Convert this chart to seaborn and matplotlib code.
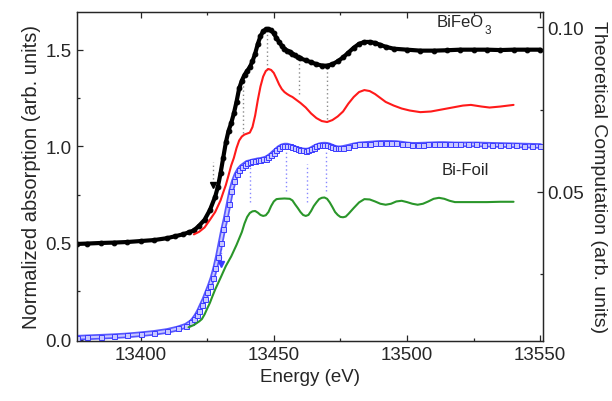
import numpy as np
import pandas as pd
import matplotlib
matplotlib.use("Agg")
import matplotlib.pyplot as plt
from matplotlib.ticker import MultipleLocator, FormatStrFormatter
import seaborn as sns

# ---------------- data ----------------
# BiFeO3 experiment (left axis)
bfo_E = [13376, 13380, 13385, 13390, 13395, 13400, 13405, 13410, 13413, 13416, 13418, 13420,
         13422, 13424, 13426, 13428, 13429, 13430, 13431, 13432, 13433, 13434, 13435, 13436,
         13437, 13438, 13439, 13440, 13441, 13442, 13443, 13444, 13445, 13446, 13447, 13448,
         13449, 13450, 13451, 13452, 13453, 13454, 13455, 13456, 13457, 13458, 13459, 13460,
         13462, 13464, 13466, 13468, 13470, 13472, 13474, 13476, 13478, 13480, 13482, 13484,
         13486, 13488, 13490, 13492, 13495, 13500, 13505, 13510, 13515, 13520, 13525, 13530,
         13535, 13540, 13545, 13550]
bfo_mu = [0.495, 0.497, 0.500, 0.502, 0.505, 0.510, 0.515, 0.525, 0.535, 0.545, 0.555, 0.565,
          0.590, 0.620, 0.670, 0.740, 0.790, 0.860, 0.940, 1.020, 1.080, 1.120, 1.170, 1.230,
          1.300, 1.340, 1.370, 1.390, 1.410, 1.440, 1.480, 1.530, 1.570, 1.595, 1.605, 1.607,
          1.600, 1.585, 1.560, 1.540, 1.520, 1.505, 1.495, 1.490, 1.480, 1.470, 1.460, 1.455,
          1.445, 1.435, 1.425, 1.418, 1.417, 1.425, 1.440, 1.460, 1.485, 1.510, 1.530, 1.540,
          1.540, 1.535, 1.525, 1.515, 1.505, 1.500, 1.495, 1.495, 1.497, 1.500, 1.500, 1.500,
          1.498, 1.500, 1.500, 1.500]

# BiFeO3 theory (right axis)
bfo_th_E = [13420, 13422, 13424, 13426, 13428, 13430, 13431, 13432, 13433, 13434, 13435, 13436,
            13437, 13438, 13439, 13440, 13441, 13442, 13443, 13444, 13445, 13446, 13447, 13448,
            13449, 13450, 13451, 13452, 13453, 13454, 13455, 13456, 13457, 13458, 13459, 13460,
            13462, 13464, 13466, 13468, 13470, 13472, 13474, 13476, 13478, 13480, 13482, 13484,
            13486, 13488, 13490, 13492, 13495, 13498, 13501, 13505, 13509, 13513, 13517, 13521,
            13524, 13528, 13531, 13535, 13538, 13540]
bfo_th = [0.0371, 0.0379, 0.0392, 0.0415, 0.0439, 0.0474, 0.0498, 0.0521, 0.0550, 0.0580, 0.0603, 0.0633,
          0.0656, 0.0668, 0.0674, 0.0677, 0.0680, 0.0697, 0.0732, 0.0779, 0.0820, 0.0850, 0.0867, 0.0873,
          0.0870, 0.0861, 0.0844, 0.0826, 0.0812, 0.0803, 0.0797, 0.0792, 0.0788, 0.0782, 0.0776, 0.0770,
          0.0756, 0.0738, 0.0724, 0.0715, 0.0712, 0.0718, 0.0729, 0.0744, 0.0768, 0.0788, 0.0803, 0.0809,
          0.0806, 0.0797, 0.0785, 0.0773, 0.0762, 0.0753, 0.0747, 0.0742, 0.0744, 0.0750, 0.0756, 0.0762,
          0.0764, 0.0759, 0.0756, 0.0759, 0.0762, 0.0764]

# Bi foil experiment (left axis)
bi_E = [13376, 13380, 13385, 13390, 13395, 13400, 13405, 13410, 13414, 13417, 13419, 13420,
        13421, 13422, 13423, 13424, 13425, 13426, 13427, 13428, 13429, 13430, 13431, 13432,
        13433, 13434, 13435, 13436, 13437, 13438, 13439, 13440, 13441, 13442, 13443, 13444,
        13445, 13446, 13447, 13448, 13449, 13450, 13451, 13452, 13453, 13454, 13455, 13456,
        13457, 13458, 13459, 13460, 13461, 13462, 13463, 13464, 13465, 13466, 13467, 13468,
        13469, 13470, 13471, 13472, 13473, 13474, 13475, 13476, 13478, 13480, 13482, 13484,
        13486, 13488, 13490, 13492, 13494, 13496, 13498, 13500, 13502, 13504, 13506, 13508,
        13510, 13512, 13514, 13516, 13518, 13520, 13523, 13526, 13529, 13532, 13535, 13538,
        13541, 13544, 13547, 13550]
bi_mu = [0.010, 0.012, 0.015, 0.018, 0.022, 0.028, 0.035, 0.045, 0.058, 0.072, 0.090, 0.105,
         0.125, 0.150, 0.180, 0.210, 0.245, 0.280, 0.320, 0.370, 0.430, 0.500, 0.570, 0.630,
         0.700, 0.770, 0.820, 0.855, 0.880, 0.895, 0.905, 0.915, 0.918, 0.922, 0.925, 0.928,
         0.930, 0.933, 0.937, 0.945, 0.955, 0.968, 0.980, 0.992, 1.000, 1.004, 1.004, 1.000,
         0.995, 0.990, 0.985, 0.982, 0.979, 0.978, 0.979, 0.985, 0.993, 1.000, 1.005, 1.008,
         1.009, 1.008, 1.004, 0.998, 0.993, 0.990, 0.990, 0.992, 0.998, 1.005, 1.010, 1.012,
         1.014, 1.016, 1.018, 1.018, 1.018, 1.017, 1.014, 1.010, 1.008, 1.008, 1.009, 1.010,
         1.011, 1.012, 1.012, 1.011, 1.010, 1.010, 1.010, 1.010, 1.009, 1.008, 1.007, 1.006,
         1.005, 1.004, 1.003, 1.002]

# Bi foil theory (right axis)
bi_th_E = [13418, 13420, 13422, 13423, 13424, 13425, 13426, 13427, 13428, 13430, 13432, 13434,
           13436, 13438, 13439, 13440, 13441, 13442, 13443, 13444, 13445, 13446, 13447, 13448,
           13449, 13450, 13451, 13452, 13454, 13456, 13457, 13458, 13459, 13460, 13461, 13462,
           13463, 13464, 13465, 13466, 13467, 13468, 13469, 13470, 13471, 13472, 13473, 13474,
           13475, 13476, 13477, 13478, 13480, 13482, 13484, 13486, 13488, 13490, 13492, 13494,
           13496, 13498, 13500, 13502, 13504, 13506, 13508, 13510, 13512, 13514, 13516, 13518,
           13520, 13525, 13530, 13535, 13540]
bi_th = [0.0089, 0.0096, 0.0107, 0.0114, 0.0128, 0.0146, 0.0163, 0.0184, 0.0204, 0.0239, 0.0275, 0.0304,
         0.0339, 0.0378, 0.0404, 0.0424, 0.0436, 0.0441, 0.0442, 0.0437, 0.0430, 0.0427, 0.0429, 0.0439,
         0.0457, 0.0471, 0.0478, 0.0479, 0.0480, 0.0479, 0.0474, 0.0462, 0.0451, 0.0439, 0.0430, 0.0427,
         0.0430, 0.0442, 0.0457, 0.0468, 0.0478, 0.0482, 0.0483, 0.0479, 0.0468, 0.0454, 0.0439, 0.0430,
         0.0424, 0.0423, 0.0425, 0.0433, 0.0451, 0.0468, 0.0478, 0.0477, 0.0471, 0.0464, 0.0461, 0.0464,
         0.0471, 0.0473, 0.0469, 0.0464, 0.0461, 0.0464, 0.0471, 0.0479, 0.0482, 0.0479, 0.0473, 0.0469,
         0.0469, 0.0469, 0.0469, 0.0470, 0.0470]

# feature markers (dotted guides): energy, lower, upper (left-axis units)
bfo_guide_E = [13427.0, 13438.3, 13447.6, 13459.5, 13469.8]
bfo_guide_lo = [0.83, 1.07, 1.40, 1.27, 1.14]
bfo_guide_hi = [0.92, 1.34, 1.60, 1.45, 1.42]
bi_guide_E = [13430.3, 13441.0, 13454.5, 13462.4, 13469.6]
bi_guide_lo = [0.42, 0.71, 0.77, 0.71, 0.77]
bi_guide_hi = [0.50, 0.90, 0.99, 0.91, 0.98]
arrow_E = [13427.0, 13430.3]
arrow_y = [0.80, 0.39]

# ---------------- style ----------------
sns.set_style("ticks")
plt.rcParams["font.family"] = ["Liberation Sans", "DejaVu Sans"]
plt.rcParams["axes.linewidth"] = 0.9
plt.rcParams["xtick.direction"] = "in"
plt.rcParams["ytick.direction"] = "in"

FS = 13.5
BLACK = "#000000"
RED = "#ff1a1a"
BLUE = "#3a3aff"
LBLUE = "#c8c8ff"
GREEN = "#2a962a"

fig = plt.figure(figsize=(6.12, 4.02), dpi=100)
ax = fig.add_axes([0.1253, 0.1493, 0.887 - 0.1253, 0.9677 - 0.1493])
ax2 = ax.twinx()

bfo = pd.DataFrame({"E": bfo_E, "mu": bfo_mu})
bi = pd.DataFrame({"E": bi_E, "mu": bi_mu})
bfo_t = pd.DataFrame({"E": bfo_th_E, "mu": bfo_th})
bi_t = pd.DataFrame({"E": bi_th_E, "mu": bi_th})

# experimental curves
sns.lineplot(data=bfo, x="E", y="mu", ax=ax, color=BLACK, lw=3.0, marker="o",
             markersize=3.4, markeredgecolor=BLACK, markerfacecolor=BLACK, zorder=4)
sns.lineplot(data=bi, x="E", y="mu", ax=ax, color=BLUE, lw=4.0, alpha=0.85, zorder=4)
sns.lineplot(data=bi, x="E", y="mu", ax=ax, color=LBLUE, lw=1.5, marker="s",
             markersize=3.6, markeredgecolor=BLUE, markerfacecolor=LBLUE,
             markeredgewidth=0.7, zorder=4.1)

# theoretical curves
sns.lineplot(data=bfo_t, x="E", y="mu", ax=ax2, color=RED, lw=1.5, zorder=3)
sns.lineplot(data=bi_t, x="E", y="mu", ax=ax2, color=GREEN, lw=1.5, zorder=3)

# dotted guides
ax.vlines(bfo_guide_E, bfo_guide_lo, bfo_guide_hi, colors="#8a8a8a", linestyles=(0, (1, 2)),
          lw=1.0, zorder=2)
ax.vlines(bi_guide_E, bi_guide_lo, bi_guide_hi, colors="#8888ff", linestyles=(0, (1, 2)),
          lw=1.0, zorder=2)
ax.plot(arrow_E[0], arrow_y[0], marker="v", color=BLACK, markersize=5, ls="none", zorder=5)
ax.plot(arrow_E[1], arrow_y[1], marker="v", color=BLUE, markersize=5, ls="none", zorder=5)

# axes limits / ticks
ax.set_xlim(13376, 13551)
ax.set_ylim(-0.007, 1.695)
ax2.set_ylim(0.00475, 0.1046)

ax.xaxis.set_major_locator(MultipleLocator(50))
ax.xaxis.set_minor_locator(MultipleLocator(25))
ax.yaxis.set_major_locator(MultipleLocator(0.5))
ax.yaxis.set_minor_locator(MultipleLocator(0.25))
ax2.yaxis.set_major_locator(MultipleLocator(0.05))
ax2.yaxis.set_minor_locator(MultipleLocator(0.025))

ax.tick_params(which="both", top=True, right=False, labelsize=FS, width=0.9)
ax.tick_params(which="major", length=4)
ax.tick_params(which="minor", length=2.5)
ax2.tick_params(which="both", labelsize=FS, width=0.9, direction="in")
ax2.tick_params(which="major", length=4)
ax2.tick_params(which="minor", length=2.5)

ax.yaxis.set_major_formatter(FormatStrFormatter("%.1f"))
ax2.yaxis.set_major_formatter(FormatStrFormatter("%.2f"))
ax.xaxis.set_major_formatter(FormatStrFormatter("%d"))

ax.set_xlabel("Energy (eV)", fontsize=FS)
ax.set_ylabel("Normalized absorption (arb. units)", fontsize=14.5, labelpad=3)
ax2.set_ylabel("Theoretical Computation (arb. units)", fontsize=14, rotation=270, labelpad=16)

ax.text(13511, 1.623, "BiFeO", fontsize=12, ha="left", va="baseline")
ax.text(13529, 1.586, "3", fontsize=8.5, ha="left", va="baseline")
ax.text(13513, 0.857, "Bi-Foil", fontsize=12, ha="left", va="baseline")

for a in (ax, ax2):
    for s in a.spines.values():
        s.set_visible(True)
        s.set_linewidth(0.9)

fig.savefig("out.png", dpi=100)
